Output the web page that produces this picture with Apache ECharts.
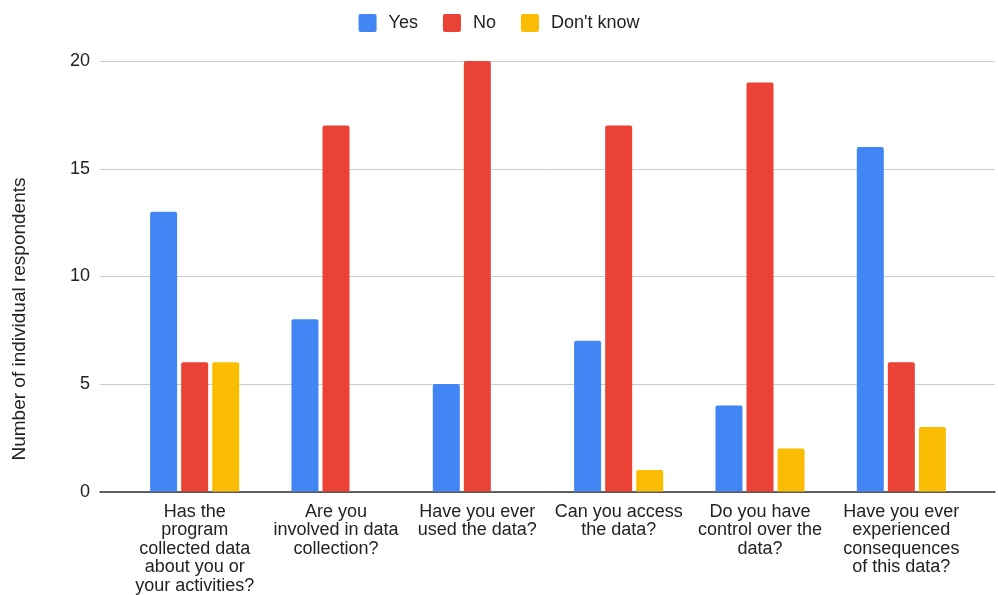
<!DOCTYPE html>
<html>
<head>
<meta charset="utf-8">
<script src="https://cdn.jsdelivr.net/npm/echarts@6/dist/echarts.min.js"></script>
<style>
  html, body { margin: 0; padding: 0; background: #fff; }
  #chart { width: 998px; height: 595px; }
</style>
</head>
<body>
<div id="chart"></div>
<script>
var categories = [
  'Has the\nprogram\ncollected data\nabout you or\nyour activities?',
  'Are you\ninvolved in data\ncollection?',
  'Have you ever\nused the data?',
  'Can you access\nthe data?',
  'Do you have\ncontrol over the\ndata?',
  'Have you ever\nexperienced\nconsequences\nof this data?'
];
var seriesNames = ['Yes', 'No', "Don't know"];
var yesData = [13, 8, 5, 7, 4, 16];
var noData = [6, 17, 20, 17, 19, 6];
var dontKnowData = [6, null, null, 1, 2, 3];
var colors = ['#4285F4', '#EA4335', '#FBBC04'];

var font = 'Liberation Sans, Arial, sans-serif';
var chart = echarts.init(document.getElementById('chart'));

// small rounded square for legend keys
var keyIcon = 'path://M2,0 H16 A2,2 0 0 1 18,2 V16 A2,2 0 0 1 16,18 H2 A2,2 0 0 1 0,16 V2 A2,2 0 0 1 2,0 Z';

function barSeries(name, data, color) {
  return {
    name: name,
    type: 'bar',
    xAxisIndex: 1,
    yAxisIndex: 1,
    data: data,
    barWidth: 27,
    barGap: '15%',
    itemStyle: { color: color, borderRadius: [2, 2, 0, 0] }
  };
}

chart.setOption({
  animation: false,
  textStyle: { fontFamily: font },
  legend: {
    data: seriesNames,
    left: 'center',
    top: 9,
    itemWidth: 18,
    itemHeight: 18,
    itemGap: 25,
    icon: keyIcon,
    textStyle: { fontSize: 18, color: '#222', padding: [0, 0, 0, 7] }
  },
  graphic: [{
    type: 'text',
    x: 20,
    y: 319,
    rotation: Math.PI / 2,
    style: {
      text: 'Number of individual respondents',
      fill: '#222',
      font: '19px ' + font,
      align: 'center',
      verticalAlign: 'middle'
    }
  }],
  grid: [
    { left: 100, right: 3, top: 61, bottom: 103 },
    { left: 124, right: 26, top: 61, bottom: 103 }
  ],
  xAxis: [
    {
      type: 'category',
      gridIndex: 0,
      data: categories,
      axisLine: { lineStyle: { color: '#333', width: 1.5 } },
      axisTick: { show: false },
      axisLabel: { show: false }
    },
    {
      type: 'category',
      gridIndex: 1,
      data: categories,
      axisLine: { show: false },
      axisTick: { show: false },
      axisLabel: {
        interval: 0,
        fontSize: 18,
        lineHeight: 18.5,
        color: '#222',
        margin: 11
      }
    }
  ],
  yAxis: [
    {
      type: 'value',
      gridIndex: 0,
      min: 0,
      max: 20,
      interval: 5,
      axisLine: { show: false },
      axisTick: { show: false },
      axisLabel: { fontSize: 18, color: '#222', margin: 10 },
      splitLine: { lineStyle: { color: '#cccccc', width: 1 } }
    },
    {
      type: 'value',
      gridIndex: 1,
      min: 0,
      max: 20,
      interval: 5,
      show: false,
      splitLine: { show: false }
    }
  ],
  series: [
    barSeries(seriesNames[0], yesData, colors[0]),
    barSeries(seriesNames[1], noData, colors[1]),
    barSeries(seriesNames[2], dontKnowData, colors[2])
  ]
});
</script>
</body>
</html>
